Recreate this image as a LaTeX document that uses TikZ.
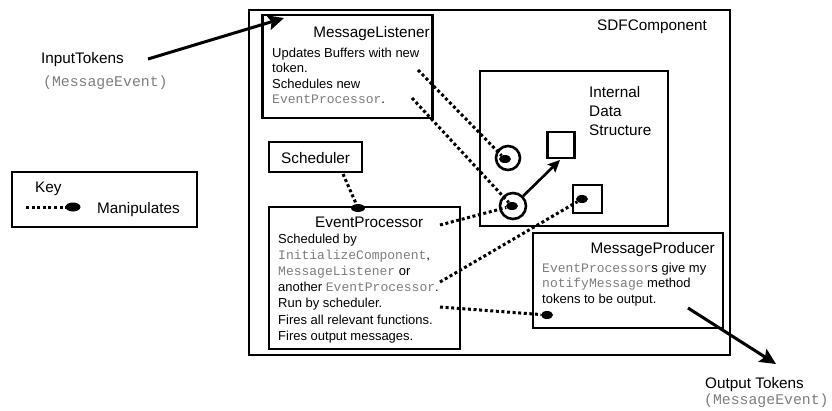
\documentclass[tikz,border=0pt]{standalone}
\usepackage{fontspec}
\setmainfont{Liberation Sans}
\setmonofont{Liberation Mono}
\usetikzlibrary{arrows.meta,shapes.geometric}
\definecolor{codegray}{RGB}{125,125,125}
\newcommand{\cls}[1]{{\ttfamily\color{codegray}#1}}

\begin{document}
\begin{tikzpicture}[x=1pt,y=-1pt,
  frame/.style={draw, line width=2.8pt, rectangle, inner sep=0pt},
  ring/.style={draw, line width=2.6pt, circle, inner sep=0pt},
  title/.style={font=\fontsize{15.3}{19}\selectfont, inner sep=0pt},
  body/.style={font=\fontsize{13}{15.5}\selectfont, inner sep=0pt, align=left, anchor=base west},
  label/.style={font=\fontsize{15.3}{18}\selectfont, inner sep=0pt, anchor=base west},
  typelabel/.style={font=\fontsize{14.8}{18}\selectfont, inner sep=0pt, anchor=base west},
  manip/.style={line width=3pt, dash pattern=on 3pt off 2.6pt},
  blob/.style={ellipse, fill=black, inner sep=0pt, minimum width=12pt, minimum height=8pt},
  flow/.style={line width=3pt, -{Stealth[length=16pt,width=15pt,inset=3pt]}},
  link/.style={line width=2.6pt, -{Stealth[length=12pt,width=11pt,inset=2pt]}}]

\useasboundingbox (0,0) rectangle (832,410);

% component and its parts (multi-line text is anchored at its last baseline)
\node[frame, minimum width=481pt, minimum height=345pt] (sdf) at (489.5,182.5) {};
\node[title, anchor=base west] (sdflbl) at (597,30) {SDFComponent};

\node[frame, minimum width=170pt, minimum height=103pt] (ml) at (347.5,66.5) {};
\node[title, anchor=base east] (mltitle) at (430,37) {MessageListener};
\node[body] (mltext) at (272,103.5) {Updates Buffers with new\\token.\\Schedules new\\\cls{EventProcessor}.};

\node[frame, minimum width=93pt, minimum height=30pt] (sched) at (315.5,157) {};
\node[title, anchor=base west] (schedlbl) at (281,163) {Scheduler};

\node[frame, minimum width=191pt, minimum height=142pt] (ep) at (364.5,278) {};
\node[title, anchor=base west] (eptitle) at (315,227) {EventProcessor};
\node[body, font=\fontsize{13}{16.2}\selectfont] (eptext) at (278,340.2) {Scheduled by\\\cls{InitializeComponent},\\\cls{MessageListener} or\\another \cls{EventProcessor}.\\Run by scheduler.\\Fires all relevant functions.\\Fires output messages.};

\node[frame, minimum width=188pt, minimum height=155pt] (ids) at (574,148.5) {};
\node[body, font=\fontsize{15.3}{19}\selectfont] (idslbl) at (589,135) {Internal\\Data\\Structure};
\node[frame, minimum width=27pt, minimum height=26pt] (sq1) at (561,145) {};
\node[frame, minimum width=29pt, minimum height=28pt] (sq2) at (587.5,199) {};
\node[ring, minimum size=24pt] (c1) at (508,158) {};
\node[ring, minimum size=26pt] (c2) at (513,206) {};

\node[frame, minimum width=190pt, minimum height=95pt] (mp) at (628,280.5) {};
\node[title, anchor=base east] (mptitle) at (715,253) {MessageProducer};
\node[body] (mptext) at (542,303) {\cls{EventProcessor}s give my\\\cls{notifyMessage} method\\tokens to be output.};

% outside labels
\node[label] (inlbl) at (41,63) {InputTokens};
\node[typelabel] (intype) at (43,86) {\cls{(MessageEvent)}};
\node[label] (outlbl) at (705,388) {Output Tokens};
\node[typelabel] (outtype) at (704,404) {\cls{(MessageEvent)}};

% key
\node[frame, minimum width=185pt, minimum height=55pt] (key) at (104.5,199.5) {};
\node[label] (keylbl) at (35,192) {Key};
\node[label] (manlbl) at (97,213) {Manipulates};
\node[blob, minimum width=15pt, minimum height=9pt] (bk) at (73,207) {};
\coordinate (ks) at (26,207);
\draw[manip] (ks) -- (bk);

% manipulation ends
\node[blob] (b1) at (505,159) {};
\node[blob] (b2) at (512,206) {};
\node[blob] (b3) at (582,199) {};
\node[blob] (b4) at (547,315) {};
\node[blob, minimum width=14pt] (b5) at (358,208) {};

\coordinate (ml1) at (418,70);
\coordinate (ml2) at (412,98);
\coordinate (ep1) at (440,225);
\coordinate (ep2) at (440,282);
\coordinate (ep3) at (440,307);
\coordinate (sc1) at (343,174);

\draw[manip] (ml1) -- (b1);
\draw[manip] (ml2) -- (b2);
\draw[manip] (ep1) -- (b2);
\draw[manip] (ep2) -- (b3);
\draw[manip] (ep3) -- (b4);
\draw[manip] (sc1) -- (b5);

% token flow
\coordinate (inS) at (148,59);
\coordinate (inT) at (284,18);
\draw[flow] (inS) -- (inT);
\coordinate (outS) at (688,308);
\coordinate (outT) at (776,364);
\draw[flow] (outS) -- (outT);

% pointer inside the data structure
\coordinate (sqT) at (560,160);
\draw[link] (c2) -- (sqT);
\end{tikzpicture}
\end{document}
